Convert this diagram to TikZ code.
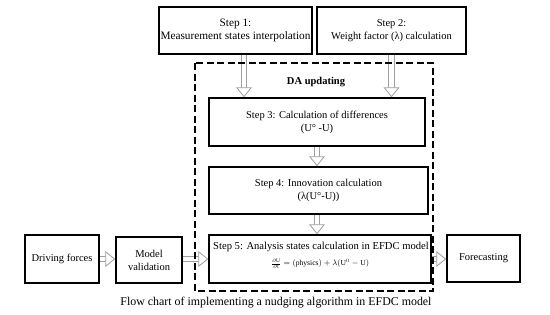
\documentclass[tikz,border=0pt]{standalone}
\usepackage{fontspec}
\setmainfont{Liberation Serif}
\usetikzlibrary{arrows.meta,backgrounds,calc}
\tikzset{
  box/.style={draw=black, line width=1.5pt, rectangle, inner sep=0pt, align=center,
    font=\fontsize{10.5}{13}\selectfont},
  plain/.style={inner sep=0pt, align=center},
  hollow/.style={white, line width=.7pt,
    -{Triangle[color=gray!75, open, fill=white, length=10pt, width=16pt, line width=.8pt]},
    preaction={draw=gray!75, arrows=-, double=white, double distance=4.6pt, line width=.8pt, shorten >=9pt}},
  dabox/.style={draw=black, line width=1.8pt, dash pattern=on 7pt off 3.5pt}
}
\begin{document}
\begin{tikzpicture}[x=1pt,y=-1pt]
\useasboundingbox (0,0) rectangle (550,314);

\node[box, minimum width=153pt, minimum height=47pt, font=\fontsize{11.3}{13}\selectfont] (s1) at (235.5,30.5) {Step 1:\\Measurement states interpolation};
\node[box, minimum width=149pt, minimum height=47pt] (s2) at (391.5,30.5) {Step 2:\\Weight factor (λ) calculation};
\node[box, minimum width=216pt, minimum height=48pt] (s3) at (317,122) {Step 3: Calculation of differences\\(U° -U)};
\node[box, minimum width=219pt, minimum height=47pt] (s4) at (318.5,190.5) {Step 4: Innovation calculation\\(λ(U°-U))};
\node[box, minimum width=222pt, minimum height=48pt] (s5) at (320,259) {};
\node[plain, font=\fontsize{10.6}{13}\selectfont] (s5t) at (321,247) {Step 5: Analysis states calculation in EFDC model};
\node[plain, font=\fontsize{7.6}{9}\selectfont] (s5e) at (320,264) {$\frac{\partial \mathrm{U}}{\partial \mathrm{t}} = (\mathrm{physics}) + \lambda(\mathrm{U}^{0} - \mathrm{U})$};
\node[box, minimum width=74pt, minimum height=48pt] (df) at (62,259) {Driving forces};
\node[box, minimum width=66pt, minimum height=46pt] (mv) at (149,260) {Model\\validation};
\node[box, minimum width=73pt, minimum height=47pt] (fc) at (483.5,258.5) {Forecasting};
\node[plain, font=\bfseries\fontsize{10.5}{12}\selectfont] (da) at (316,82) {DA updating};
\node[plain, font=\fontsize{11.9}{13}\selectfont] (cap) at (276,303) {Flow chart of implementing a nudging algorithm in EFDC model};
\coordinate (dtl) at (195,63);
\coordinate (dbr) at (433,291);

\begin{scope}[on background layer]
\fill[white] (0,0) rectangle (550,314);
\draw[hollow] ([xshift=8.5pt]s1.south) -- ([xshift=8.5pt]s1.south |- s3.north);
\draw[hollow] (s2.south) -- (s2.south |- s3.north);
\draw[hollow] (s3.south) -- (s3.south |- s4.north);
\draw[hollow] ([xshift=-1.5pt]s4.south) -- ([xshift=-1.5pt]s4.south |- s5.north);
\draw[hollow] (df.east |- s5.west) -- (mv.west |- s5.west);
\draw[hollow] (mv.east |- s5.west) -- (s5.west);
\draw[hollow] (s5.east) -- (s5.east -| fc.west);
\draw[dabox] (dtl) rectangle (dbr);
\end{scope}
\end{tikzpicture}
\end{document}
